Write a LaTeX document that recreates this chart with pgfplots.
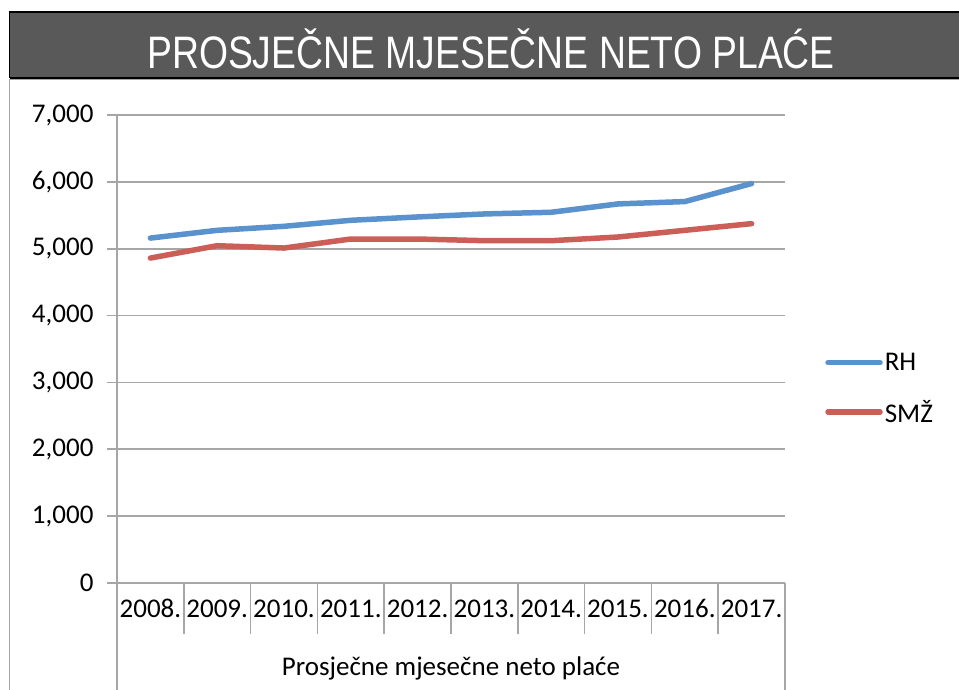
\documentclass[border=0pt]{standalone}
\usepackage{fontspec}
\setmainfont{Carlito}
\newfontfamily\titlefont[FakeStretch=0.82]{Liberation Sans}
\usepackage{pgfplots}
\pgfplotsset{compat=1.18}
\definecolor{rh}{HTML}{5A92CE}
\definecolor{smz}{HTML}{CC5E58}
\definecolor{gridc}{HTML}{A6A6A6}
\definecolor{titlebar}{HTML}{595959}
\newcommand\lab{\fontsize{27}{32}\selectfont}
\begin{document}
\begin{tikzpicture}[x=1pt,y=1pt]
\path[use as bounding box] (0,0) rectangle (959,690);
\begin{scope}
\clip (0,0) rectangle (959,690);
\fill[titlebar] (9.5,612) rectangle (980,678);
\draw[black, line width=1.6pt] (9.5,612) -- (9.5,678) -- (980,678);
\draw[black, line width=1.6pt] (9.5,612) -- (980,612);
\draw[gridc, line width=1.6pt] (9.5,610.5) -- (980,610.5);
\draw[gridc, line width=1.6pt] (9.5,611) -- (9.5,-10);
\node[text=white, font=\titlefont\fontsize{45.5}{50}\selectfont] at (491,641) {PROSJEČNE MJESEČNE NETO PLAĆE};
\end{scope}
\begin{axis}[
  at={(117pt,107pt)}, anchor=south west,
  scale only axis, width=668pt, height=468pt,
  xmin=-0.5, xmax=9.5, ymin=0, ymax=7000,
  clip=false,
  axis lines*=left,
  axis line style={gridc, line width=1.6pt},
  ytick={0,1000,...,7000},
  ymajorgrids,
  grid style={gridc, line width=1.6pt},
  major tick length=10pt, tick align=outside,
  tick style={gridc, line width=1.6pt},
  xtick={0,1,2,3,4,5,6,7,8,9},
  xticklabels={2008.,2009.,2010.,2011.,2012.,2013.,2014.,2015.,2016.,2017.},
  xtick style={draw=none},
  tick label style={font=\lab, text=black},
  xticklabel style={anchor=base, yshift=-25pt},
  yticklabel style={anchor=east, xshift=-10pt},
  /pgf/number format/.cd, 1000 sep={,}, assume math mode=true, /pgfplots/.cd,
  xlabel={Prosječne mjesečne neto plaće},
  xlabel style={font=\lab, at={(axis description cs:0.5,0)}, anchor=center, yshift=-85pt},
  legend style={at={(1.06,0.4156)}, anchor=west, draw=none, fill=none, font=\lab, row sep=24pt, inner xsep=0pt},
  legend cell align=left,
  legend image code/.code={\draw[#1] (0pt,0pt) -- (52pt,0pt);},
]
\addplot[rh, line width=5.5pt, line cap=round, line join=round] coordinates {
(0,5159) (1,5275) (2,5335) (3,5425) (4,5475) (5,5520) (6,5545) (7,5670) (8,5705) (9,5975)};
\addlegendentry{RH}
\addplot[smz, line width=5.5pt, line cap=round, line join=round] coordinates {
(0,4860) (1,5045) (2,5010) (3,5145) (4,5145) (5,5120) (6,5120) (7,5175) (8,5275) (9,5375)};
\addlegendentry{SMŽ}
\foreach \s in {0.5,1.5,2.5,3.5,4.5,5.5,6.5,7.5,8.5} {
  \edef\tmp{\noexpand\draw[gridc, line width=1.6pt] (axis cs:\s,0) -- ++(0pt,-51pt);}\tmp
}
\draw[gridc, line width=1.6pt] (axis cs:-0.5,0) -- ++(0pt,-120pt);
\draw[gridc, line width=1.6pt] (axis cs:9.5,0) -- ++(0pt,-120pt);
\end{axis}
\end{tikzpicture}
\end{document}
